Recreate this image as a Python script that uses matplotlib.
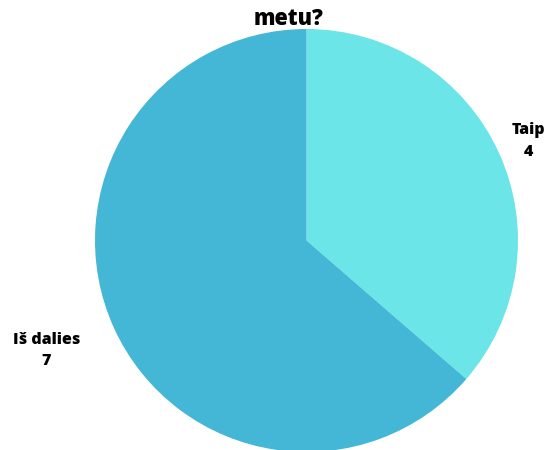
import matplotlib.pyplot as plt

# data
labels = ["Taip", "Iš dalies"]
values = [4, 7]
colors = ["#6ce5e8", "#43b7d5"]
title = "metu?"

plt.rcParams['font.family'] = ['Open Sans', 'DejaVu Sans']

fig = plt.figure(figsize=(5.52, 4.5), dpi=100)
# pie centre ~ (306.5, 240.5) px from top-left, radius ~211.5 px
ax = fig.add_axes([95 / 552, (450 - 240.5 - 211.5) / 450, 423 / 552, 423 / 450])
ax.pie(values, colors=colors, startangle=90, counterclock=False,
       radius=1.0, wedgeprops=dict(linewidth=0))
ax.set_xlim(-1, 1)
ax.set_ylim(-1, 1)
ax.set_aspect('equal')
ax.axis('off')

# label positions in axes data units (radius = 1)
label_pos = [(1.05, 0.47), (-1.23, -0.52)]
for lab, val, (x, y) in zip(labels, values, label_pos):
    ax.text(x, y, f"{lab}\n{val}", ha='center', va='center',
            fontsize=11.5, fontweight='heavy', linespacing=1.45,
            clip_on=False)

fig.text(289 / 552, 1 - 25 / 450, title, ha='center', va='baseline',
         fontsize=15.5, fontweight='heavy')

fig.savefig("out.png", dpi=100)
